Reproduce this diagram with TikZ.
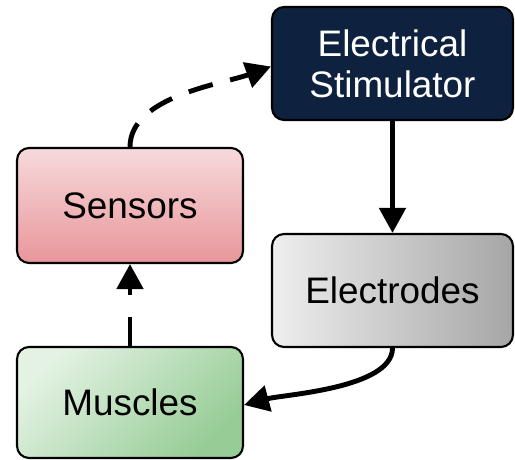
\documentclass[tikz,border=0pt]{standalone}
\usepackage{fontspec}
\setmainfont{Liberation Sans}
\usepackage{tikz}
\usetikzlibrary{arrows.meta}
\definecolor{navy}{HTML}{0E2240}
\definecolor{pinklight}{HTML}{F7DADC}
\definecolor{pinkdark}{HTML}{E8969A}
\definecolor{graylight}{HTML}{EEEEEE}
\definecolor{graydark}{HTML}{A6A6A6}
\definecolor{greenlight}{HTML}{E3F2E3}
\definecolor{greendark}{HTML}{96CC96}
\tikzset{
	block/.style={draw=black, line width=1.2pt, rounded corners=0.24cm, align=center,
		font=\fontsize{21}{23.5}\selectfont, inner sep=0pt},
	link/.style={line width=2.8pt, -{Triangle[length=0.5cm,width=0.52cm]}},
}

\begin{document}
\begin{tikzpicture}[x=0.02cm,y=0.02cm]
	\useasboundingbox (0,0) rectangle (515,460);
	\node[block, fill=navy, text=white, minimum width=4.82cm, minimum height=2.26cm] (stim) at (392.5,396.5) {Electrical\\Stimulator};
	\node[block, top color=pinklight, bottom color=pinkdark, minimum width=4.52cm, minimum height=2.3cm] (sens) at (130,254.5) {Sensors};
	\node[block, left color=graylight, right color=graydark, minimum width=4.82cm, minimum height=2.26cm] (elec) at (392.5,169.5) {Electrodes};
	\node[block, top color=greenlight, bottom color=greendark, shading angle=45, minimum width=4.52cm, minimum height=2.22cm] (musc) at (130,57.5) {Muscles};
	\draw[link, dash pattern=on 0.5cm off 0.36cm] (sens.north) to[out=90,in=200,looseness=0.8] ([yshift=-0.06cm]stim.west);
	\draw[link] (stim.south) -- (elec.north);
	\draw[link] (elec.south) to[out=-90,in=15,looseness=0.65] ([yshift=-0.05cm]musc.east);
	\draw[link, dash pattern=on 0.58cm off 0.44cm] (musc.north) -- (sens.south);
\end{tikzpicture}
\end{document}
